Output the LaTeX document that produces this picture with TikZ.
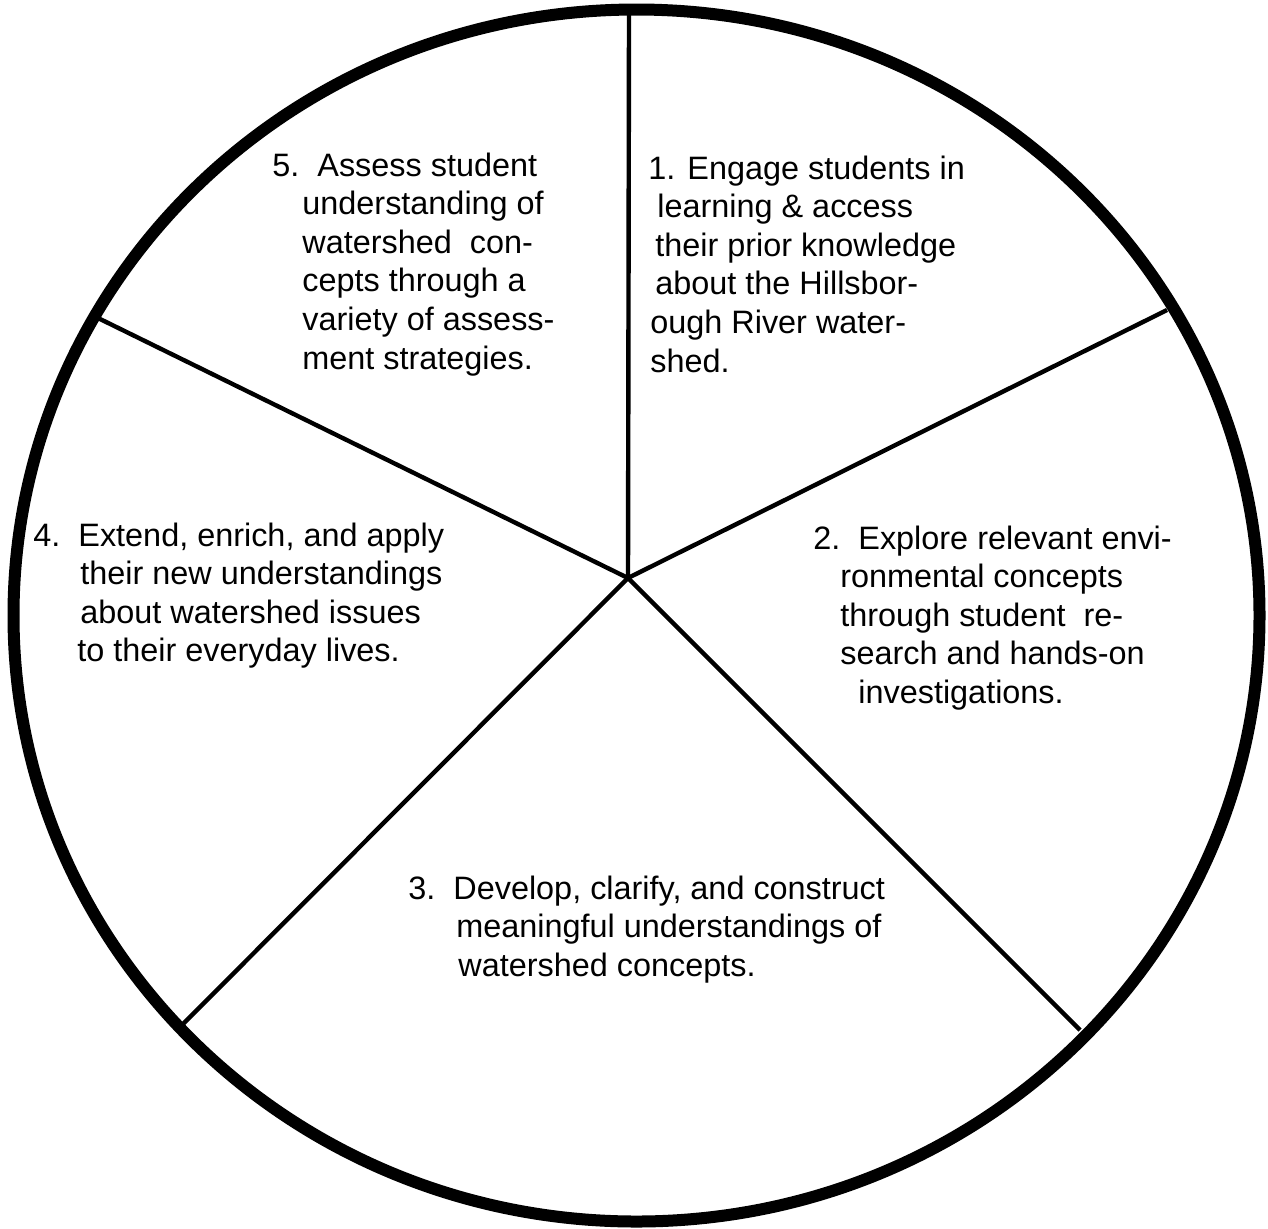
\documentclass[tikz,border=0pt]{standalone}
\usepackage{fontspec}
\setmainfont{Liberation Sans}
\begin{document}
\begin{tikzpicture}[x=0.5pt,y=-0.5pt,
  lbl/.style={anchor=base west, inner sep=0pt, font=\fontsize{16.2}{19}\selectfont},
  spoke/.style={line width=2.2pt, line cap=butt}]
\useasboundingbox (0,0) rectangle (1268,1228);
\draw[line width=6pt] (636.5,615.5) ellipse [x radius=311.5pt, y radius=303pt];
\coordinate (c) at (628,578);
\coordinate (eT) at (629,14);
\coordinate (eUR) at (1167,310);
\coordinate (eLR) at (1080,1030);
\coordinate (eLL) at (183,1024);
\coordinate (eUL) at (98,318);
\draw[spoke] (c) -- (eT);
\draw[spoke] (c) -- (eUR);
\draw[spoke] (c) -- (eLR);
\draw[spoke] (c) -- (eLL);
\draw[spoke] (c) -- (eUL);
% block 5
\node[lbl] (t5a) at (272,176) {5.~~Assess student};
\node[lbl] (t5b) at (302,214.6) {understanding of};
\node[lbl] (t5c) at (302,253.2) {watershed~~con-};
\node[lbl] (t5d) at (302,291.8) {cepts through a};
\node[lbl] (t5e) at (302,330.4) {variety of assess-};
\node[lbl] (t5f) at (302,369) {ment strategies.};
% block 1
\node[lbl] (t1a) at (648,179) {1. Engage students in};
\node[lbl] (t1b) at (657,217.6) {learning \& access};
\node[lbl] (t1c) at (655,256.2) {their prior knowledge};
\node[lbl] (t1d) at (655,294.8) {about the Hillsbor-};
\node[lbl] (t1e) at (650,333.4) {ough River water-};
\node[lbl] (t1f) at (650,372) {shed.};
% block 4
\node[lbl] (t4a) at (33,546) {4.~~Extend, enrich, and apply};
\node[lbl] (t4b) at (80,584.6) {their new understandings};
\node[lbl] (t4c) at (80,623.2) {about watershed issues};
\node[lbl] (t4d) at (77,661.8) {to their everyday lives.};
% block 2
\node[lbl] (t2a) at (813,549) {2.~~Explore relevant envi-};
\node[lbl] (t2b) at (840,587.6) {ronmental concepts};
\node[lbl] (t2c) at (840,626.2) {through student~~re-};
\node[lbl] (t2d) at (840,664.8) {search and hands-on};
\node[lbl] (t2e) at (858,703.4) {investigations.};
% block 3
\node[lbl] (t3a) at (408,899) {3.~~Develop, clarify, and construct};
\node[lbl] (t3b) at (456,937.6) {meaningful understandings of};
\node[lbl] (t3c) at (458,976.2) {watershed concepts.};
\end{tikzpicture}
\end{document}
